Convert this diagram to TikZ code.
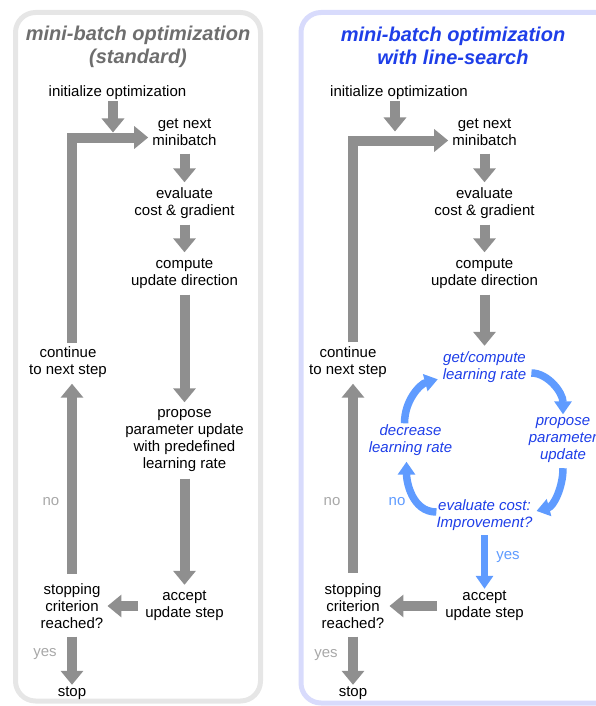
\documentclass[tikz,border=0pt]{standalone}
\usepackage{fontspec}
\setmainfont{Liberation Sans}
\usetikzlibrary{arrows.meta,positioning}
\definecolor{flowgray}{RGB}{143,143,143}
\definecolor{remgray}{RGB}{168,168,168}
\definecolor{titlegray}{RGB}{110,110,110}
\definecolor{panelgray}{RGB}{230,230,230}
\definecolor{panelblue}{RGB}{216,219,252}
\definecolor{lsblue}{RGB}{30,62,232}
\definecolor{lsarrow}{RGB}{95,155,255}
\tikzset{
    stage/.style={
    align=center,inner sep=0pt,font=\fontsize{15}{17}\selectfont
    },
    lsstage/.style={
    stage,text=lsblue,font=\fontsize{15}{17}\selectfont\itshape
    },
    rows/.style={
    minimum height=#1*17pt
    },
    title/.style={
    align=center,inner sep=0pt,font=\fontsize{20}{23}\selectfont\bfseries\itshape
    },
    remark/.style={
    inner sep=0pt,font=\fontsize{15}{17}\selectfont,text=remgray
    },
    flow/.style={
    draw=flowgray,line width=10pt,-{Triangle[length=14pt,width=22pt]},shorten <=4pt,shorten >=4pt
    },
    lsflow/.style={
    draw=lsarrow,line width=7.5pt,-{Triangle[length=13pt,width=17pt]}
    },
    panel/.style={
    rounded corners=20pt,line width=5pt
    },
}
\begin{document}
\begin{tikzpicture}[x=1pt, y=1pt, node distance=17pt, on grid]
   \useasboundingbox (0,0) rectangle (595,-706);
   \draw[panel,draw=panelgray] (15.5,-12.5) rectangle (260.5,-701);
   \draw[panel,draw=panelblue] (301,-12.5) rectangle (660,-703);

   % standard
   \node[title,text=titlegray] (Lhead) at (138,-47) {mini-batch optimization\\(standard)};
   \node[stage,rows=1] (Linit) at (117.5,-92.5) {initialize optimization};
   \node[stage,rows=2] (Lget) at (184.5,-132.5) {get next\\minibatch};
   \node[stage,rows=2,below=71pt of Lget] (Leval) {evaluate\\cost \& gradient};
   \node[stage,rows=2,below=70pt of Leval] (Lcomp) {compute\\update direction};
   \node[stage,rows=4,below=167pt of Lcomp] (Lprop) {propose\\parameter update\\with predefined\\learning rate};
   \node[stage,rows=2,below=165.5pt of Lprop] (Lacc) {accept\\update step};
   \node[stage,rows=3,left=112.5pt of Lacc] (Lcrit) {stopping\\criterion\\reached?};
   \node[stage,rows=1,below=87.5pt of Lcrit] (Lend) {stop};
   \node[stage,rows=2] (Lcont) at (68,-362.5) {continue\\to next step};
   \node[remark] (Lno) at (51,-502) {no};
   \node[remark] (Lyes) at (45,-654) {yes};

   % line-search
   \node[title,text=lsblue] (Rhead) at (453,-46) {mini-batch optimization\\with line-search};
   \node[stage,rows=1,right=281.5pt of Linit] (Rinit) {initialize optimization};
   \node[stage,rows=2,right=300pt of Lget] (Rget) {get next\\minibatch};
   \node[stage,rows=2,right=300pt of Leval] (Reval) {evaluate\\cost \& gradient};
   \node[stage,rows=2,right=300pt of Lcomp] (Rcomp) {compute\\update direction};
   \node[lsstage,rows=2,below=93.5pt of Rcomp] (Rlr) {get/compute\\learning rate};
   \node[lsstage,rows=3,below right=73pt and 78.5pt of Rlr] (Rprop) {propose\\parameter\\update};
   \node[lsstage,rows=2,below=148pt of Rlr] (Rimp) {evaluate cost:\\Improvement?};
   \node[lsstage,rows=2,below left=73.5pt and 74pt of Rlr] (Rdec) {decrease\\learning rate};
   \node[stage,rows=2,right=300pt of Lacc] (Racc) {accept\\update step};
   \node[stage,rows=3,right=281pt of Lcrit] (Rcrit) {stopping\\criterion\\reached?};
   \node[stage,rows=1,right=281pt of Lend] (Rend) {stop};
   \node[stage,rows=2,right=280pt of Lcont] (Rcont) {continue\\to next step};
   \node[remark] (Rno) at (332,-502) {no};
   \node[remark] (Ryes) at (326,-655) {yes};
   \node[remark,text=lsarrow] (Rretry) at (397,-502) {no};
   \node[remark,text=lsarrow] (Rkeep) at (508,-557) {yes};

  \path
    (Lget) edge[flow] (Leval)
    (Leval) edge[flow] (Lcomp)
    (Lcomp) edge[flow] (Lprop)
    (Lprop) edge[flow] (Lacc)
    (Lacc) edge[flow,shorten <=7pt] (Lcrit)
    (Lcrit) edge[flow,shorten <=5pt,shorten >=0pt] (Lend);
  \draw[flow,shorten <=6.5pt] (Lcrit.north) -- (Lcrit.north |- Lcont.south);
  \draw[flow,shorten <=2.5pt] (Lcrit.north |- Lcont.north) |- ([yshift=-5pt]Lget.west);
  \draw[flow,shorten <=0pt,shorten >=0pt] ([xshift=-4.5pt]Linit.south) -- ([xshift=-4.5pt]Linit.south |- Lget.west);

  \path
    (Rget) edge[flow] (Reval)
    (Reval) edge[flow] (Rcomp)
    (Rcomp) edge[flow] (Rlr)
    (Racc) edge[flow,shorten <=8pt,shorten >=5pt] (Rcrit)
    (Rcrit) edge[flow,shorten <=5pt,shorten >=0pt] (Rend);
  \draw[flow,shorten <=7.5pt] (Rcrit.north) -- (Rcrit.north |- Rcont.south);
  \draw[flow,shorten <=3pt] (Rcrit.north |- Rcont.north) |- ([yshift=-8pt]Rget.west);
  \draw[flow,shorten <=0pt,shorten >=1pt] ([xshift=-4pt]Rinit.south) -- ([xshift=-4pt]Rinit.south |- Rget.west);

  \path (Rimp) edge[lsflow,shorten <=3pt] (Racc);
  \draw[lsflow,shorten <=5pt] ([yshift=-6pt]Rlr.east) to[out=0,in=90] (Rprop.north);
  \draw[lsflow,shorten <=2.5pt,shorten >=4pt] (Rprop.south) to[out=-90,in=15] ([yshift=3pt]Rimp.east);
  \draw[lsflow,shorten >=4pt] ([yshift=3pt]Rimp.west) to[out=180,in=-90] ([xshift=-4pt]Rdec.south);
  \draw[lsflow,shorten >=5pt] ([xshift=-6pt]Rdec.north) to[out=90,in=195] ([yshift=-11pt]Rlr.west);
\end{tikzpicture}
\end{document}
